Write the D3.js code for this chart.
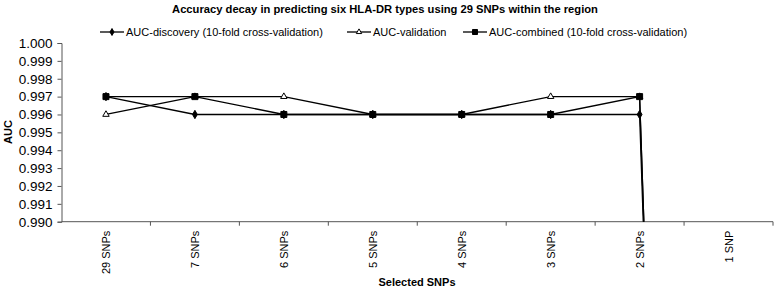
<!DOCTYPE html>
<html>
<head>
<meta charset="utf-8">
<script src="https://cdn.jsdelivr.net/npm/d3@7"></script>
<style>
  body { margin: 0; background: #fff; }
  text { font-family: "Liberation Sans", Arial, sans-serif; fill: #000; }
</style>
</head>
<body>
<svg id="chart" width="775" height="292"></svg>
<script>
// categories and series
const categories = ['29 SNPs', '7 SNPs', '6 SNPs', '5 SNPs', '4 SNPs', '3 SNPs', '2 SNPs', '1 SNP'];
const discovery  = [0.997, 0.996, 0.996, 0.996, 0.996, 0.996, 0.996, 0.85];
const validation = [0.996, 0.997, 0.997, 0.996, 0.996, 0.997, 0.997, 0.85];
const combined   = [0.997, 0.997, 0.996, 0.996, 0.996, 0.996, 0.997, 0.85];
const yTicks = [0.990, 0.991, 0.992, 0.993, 0.994, 0.995, 0.996, 0.997, 0.998, 0.999, 1.000];

const series = [
  {name: 'AUC-discovery (10-fold cross-validation)', values: discovery, symbol: d3.symbolDiamond, size: 20, fill: '#000'},
  {name: 'AUC-validation', values: validation, symbol: d3.symbolTriangle, size: 18, fill: '#fff'},
  {name: 'AUC-combined (10-fold cross-validation)', values: combined, symbol: d3.symbolSquare, size: 36, fill: '#000'}
];

const svg = d3.select('#chart');
const plotLeft = 61.5, plotRight = 773, plotTop = 43, plotBottom = 221.7;

const x = d3.scaleBand().domain(categories).range([plotLeft, plotRight]);
const y = d3.scaleLinear().domain([0.990, 1.000]).range([plotBottom, plotTop]);

// title
svg.append('text')
   .attr('x', 385).attr('y', 13)
   .attr('text-anchor', 'middle')
   .style('font-size', '11.2px').style('font-weight', 'bold')
   .text('Accuracy decay in predicting six HLA-DR types using 29 SNPs within the region');

// clip for the lines falling below the axis
svg.append('clipPath').attr('id', 'plot')
   .append('rect').attr('x', plotLeft).attr('y', 0).attr('width', plotRight - plotLeft).attr('height', plotBottom);

// y axis
const yAxis = svg.append('g')
   .attr('transform', `translate(${plotLeft},0)`)
   .call(d3.axisLeft(y).tickValues(yTicks).tickFormat(d3.format('.3f')).tickSizeOuter(0).tickSize(4));
yAxis.selectAll('text').style('font-size', '13.5px').attr('dx', '-2');
yAxis.selectAll('line, path').attr('stroke', '#555');

// x axis, ticks between categories
const xAxis = svg.append('g').attr('transform', `translate(0,${plotBottom})`);
xAxis.append('line').attr('x1', plotLeft).attr('x2', plotRight).attr('stroke', '#555');
xAxis.selectAll('.sep')
   .data(categories)
   .join('line')
   .attr('x1', d => x(d) + x.bandwidth()).attr('x2', d => x(d) + x.bandwidth())
   .attr('y1', 0).attr('y2', 4)
   .attr('stroke', '#555');
xAxis.selectAll('.lab')
   .data(categories)
   .join('text')
   .attr('transform', d => `translate(${x(d) + x.bandwidth() / 2 + 4},9) rotate(-90)`)
   .attr('text-anchor', 'end')
   .style('font-size', '11px')
   .text(d => d);

// axis titles
svg.append('text')
   .attr('transform', `translate(12,132) rotate(-90)`)
   .attr('text-anchor', 'middle')
   .style('font-size', '11px').style('font-weight', 'bold')
   .text('AUC');
svg.append('text')
   .attr('x', 417).attr('y', 286)
   .attr('text-anchor', 'middle')
   .style('font-size', '11px').style('font-weight', 'bold')
   .text('Selected SNPs');

// lines and markers
const line = d3.line()
   .x((d, i) => x(categories[i]) + x.bandwidth() / 2)
   .y(d => y(d));

const plot = svg.append('g').attr('clip-path', 'url(#plot)');
series.forEach(s => {
  plot.append('path')
     .attr('d', line(s.values))
     .attr('fill', 'none')
     .attr('stroke', '#000')
     .attr('stroke-width', 1.3);
});
series.forEach(s => {
  plot.selectAll(null)
     .data(s.values.filter(v => v >= 0.990))
     .join('path')
     .attr('transform', (d, i) => `translate(${x(categories[i]) + x.bandwidth() / 2},${y(d)})`)
     .attr('d', d3.symbol().type(s.symbol).size(s.size))
     .attr('fill', s.fill)
     .attr('stroke', '#000')
     .attr('stroke-width', 1);
});

// legend
const legendX = [100, 347, 463];
const legend = svg.append('g');
series.forEach((s, i) => {
  const g = legend.append('g').attr('transform', `translate(${legendX[i]},32)`);
  g.append('line').attr('x1', 0).attr('x2', 24).attr('stroke', '#000').attr('stroke-width', 1.3);
  g.append('path')
     .attr('transform', 'translate(12,0)')
     .attr('d', d3.symbol().type(s.symbol).size(s.size * 0.7))
     .attr('fill', s.fill).attr('stroke', '#000');
  g.append('text').attr('x', 26).attr('y', 4).style('font-size', '11px').text(s.name);
});
</script>
</body>
</html>
